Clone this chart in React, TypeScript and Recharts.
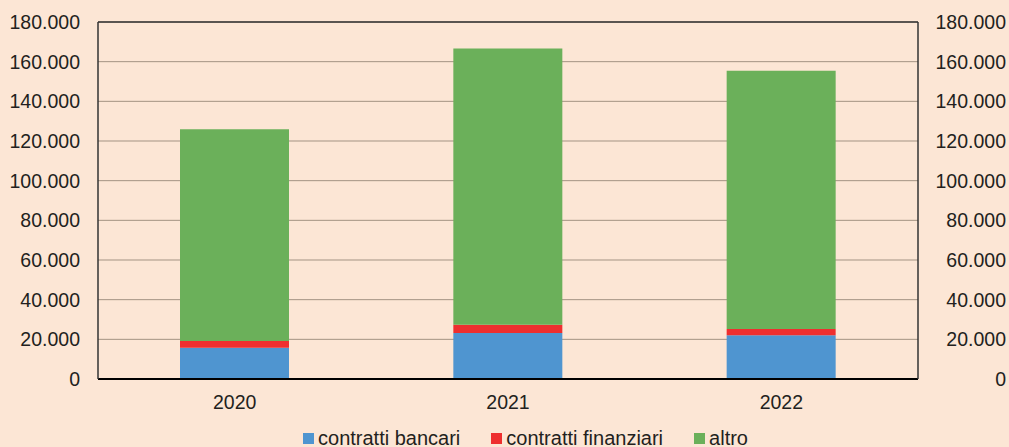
import React from "react";
import {
  BarChart,
  Bar,
  XAxis,
  YAxis,
  CartesianGrid,
  Legend,
  ReferenceLine,
} from "recharts";

const years = ["2020", "2021", "2022"];
const contrattiBancari = [15800, 23200, 22000];
const contrattiFinanziari = [3400, 4200, 3200];
const altro = [106700, 139300, 130200];
const yTicks = [0, 20000, 40000, 60000, 80000, 100000, 120000, 140000, 160000, 180000];

const series = [
  { key: "bancari", name: "contratti bancari", color: "#4F95D0" },
  { key: "finanziari", name: "contratti finanziari", color: "#EE2F2F" },
  { key: "altro", name: "altro", color: "#6BB05A" },
];

const data = years.map((year, i) => ({
  year,
  bancari: contrattiBancari[i],
  finanziari: contrattiFinanziari[i],
  altro: altro[i],
}));

const BG = "#FCE6D5";
const TEXT = "#231F20";
const FONT = "'Liberation Sans', Arial, sans-serif";

// 180000 -> "180.000"
const fmt = (v: number) => String(v).replace(/\B(?=(\d{3})+(?!\d))/g, ".");

const tickStyle = { fill: TEXT, fontSize: 19.5, fontFamily: FONT };

function LegendContent() {
  return (
    <div
      style={{
        height: 30,
        paddingTop: 12,
        paddingLeft: 42,
        boxSizing: "border-box",
        display: "flex",
        justifyContent: "center",
        alignItems: "center",
        gap: 31,
        fontFamily: FONT,
        fontSize: 20,
        color: TEXT,
        lineHeight: "21px",
      }}
    >
      {series.map((s) => (
        <div key={s.key} style={{ display: "flex", alignItems: "center" }}>
          <span
            style={{
              display: "inline-block",
              width: 11,
              height: 11,
              background: s.color,
              marginRight: 4,
            }}
          />
          <span>{s.name}</span>
        </div>
      ))}
    </div>
  );
}

export default function App() {
  return (
    <div
      style={{
        position: "absolute",
        left: 0,
        top: 0,
        width: 1009,
        height: 447,
        background: BG,
      }}
    >
      <BarChart
        width={1009}
        height={447}
        data={data}
        margin={{ top: 22, right: 0, left: 0, bottom: 0 }}
        barCategoryGap="30%"
      >
        <CartesianGrid yAxisId="left" vertical={false} stroke="#A39383" strokeWidth={1} />
        <XAxis
          dataKey="year"
          tickLine={false}
          axisLine={{ stroke: "#000", strokeWidth: 2 }}
          tick={tickStyle}
          tickSize={0}
          tickMargin={16}
          height={38}
        />
        <YAxis
          yAxisId="left"
          orientation="left"
          domain={[0, 180000]}
          allowDataOverflow
          ticks={yTicks}
          tickFormatter={fmt}
          tick={tickStyle}
          tickLine={false}
          tickSize={0}
          tickMargin={18}
          axisLine={{ stroke: "#333", strokeWidth: 1.5 }}
          width={98}
          interval={0}
        />
        {/* right labels are right-aligned against the page edge */}
        <YAxis
          yAxisId="right"
          orientation="right"
          type="number"
          domain={[0, 180000]}
          allowDataOverflow
          ticks={yTicks}
          tickFormatter={fmt}
          tick={{ ...tickStyle, textAnchor: "end", dx: 70 }}
          tickLine={false}
          tickSize={0}
          tickMargin={18}
          axisLine={{ stroke: "#333", strokeWidth: 1.5 }}
          width={91}
          interval={0}
        />
        <ReferenceLine yAxisId="right" y={180000} stroke="#333" strokeWidth={1.5} />
        {series.map((s) => (
          <Bar
            key={s.key}
            yAxisId="left"
            dataKey={s.key}
            name={s.name}
            stackId="a"
            fill={s.color}
            isAnimationActive={false}
          />
        ))}
        <Legend verticalAlign="bottom" height={30} content={<LegendContent />} />
      </BarChart>
    </div>
  );
}
